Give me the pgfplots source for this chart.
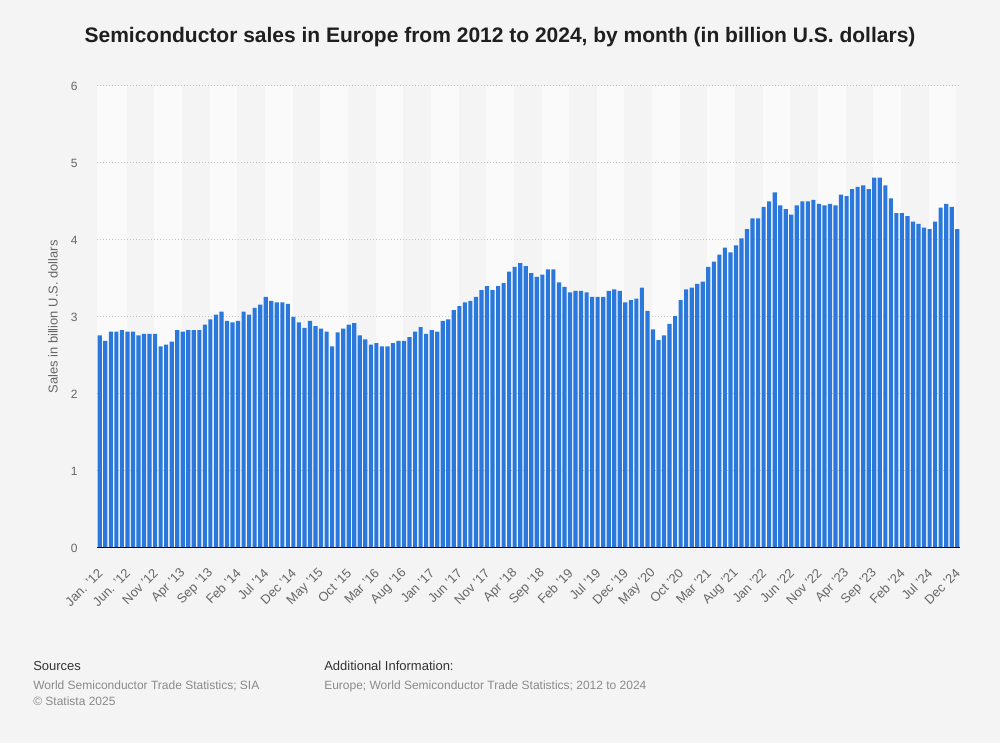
\documentclass[border=0pt]{standalone}
\usepackage{fontspec}
\setmainfont{Liberation Sans}
\usepackage{pgfplots}
\pgfplotsset{compat=1.18}
\usepackage{pgfplotstable}
\definecolor{bg}{HTML}{F4F4F4}
\definecolor{band}{HTML}{FAFAFA}
\definecolor{barblue}{HTML}{2A78DC}
\definecolor{tickgray}{HTML}{666666}
\definecolor{gridgray}{HTML}{C4C4C4}
\definecolor{footgray}{HTML}{8A8A8A}

\pgfplotstableread{
x y
0 2.76
1 2.69
2 2.81
3 2.81
4 2.83
5 2.81
6 2.81
7 2.76
8 2.78
9 2.78
10 2.78
11 2.62
12 2.64
13 2.68
14 2.83
15 2.81
16 2.83
17 2.83
18 2.83
19 2.90
20 2.97
21 3.03
22 3.07
23 2.95
24 2.93
25 2.95
26 3.07
27 3.03
28 3.12
29 3.16
30 3.26
31 3.21
32 3.19
33 3.19
34 3.17
35 3.00
36 2.93
37 2.86
38 2.95
39 2.88
40 2.85
41 2.81
42 2.62
43 2.80
44 2.85
45 2.90
46 2.92
47 2.76
48 2.71
49 2.64
50 2.66
51 2.62
52 2.62
53 2.66
54 2.69
55 2.69
56 2.74
57 2.81
58 2.87
59 2.78
60 2.83
61 2.81
62 2.95
63 2.97
64 3.09
65 3.14
66 3.19
67 3.21
68 3.26
69 3.35
70 3.40
71 3.35
72 3.40
73 3.44
74 3.59
75 3.65
76 3.70
77 3.66
78 3.57
79 3.52
80 3.55
81 3.62
82 3.62
83 3.45
84 3.39
85 3.32
86 3.34
87 3.34
88 3.32
89 3.26
90 3.26
91 3.26
92 3.34
93 3.36
94 3.34
95 3.19
96 3.22
97 3.24
98 3.38
99 3.08
100 2.84
101 2.70
102 2.76
103 2.91
104 3.01
105 3.22
106 3.36
107 3.38
108 3.43
109 3.46
110 3.65
111 3.72
112 3.81
113 3.90
114 3.84
115 3.93
116 4.02
117 4.14
118 4.28
119 4.28
120 4.43
121 4.50
122 4.62
123 4.45
124 4.40
125 4.33
126 4.45
127 4.50
128 4.50
129 4.52
130 4.47
131 4.45
132 4.47
133 4.45
134 4.59
135 4.57
136 4.66
137 4.69
138 4.71
139 4.66
140 4.81
141 4.81
142 4.71
143 4.54
144 4.35
145 4.35
146 4.31
147 4.24
148 4.21
149 4.16
150 4.14
151 4.24
152 4.42
153 4.47
154 4.43
155 4.14
}\salesdata

\begin{document}
\begin{tikzpicture}[x=0.75pt,y=0.75pt]
\fill[bg] (0,0) rectangle (1000,743);
\node[font=\bfseries\fontsize{15.75}{18}\selectfont, text=black!88, anchor=base] at (500,700) {Semiconductor sales in Europe from 2012 to 2024, by month (in billion U.S. dollars)};
\begin{axis}[
  at={(72.75pt,146.25pt)}, anchor=south west,
  scale only axis, width=647.25pt, height=346.5pt,
  xmin=-0.5, xmax=155.5, ymin=0, ymax=6,
  enlargelimits=false,
  axis line style={draw=none},
  tick style={draw=none},
  ybar, bar width=0.75,
  ytick={0,1,2,3,4,5,6},
  xtick={0,5,...,155},
  xticklabels={Jan. '12, Jun. '12, Nov '12, Apr '13, Sep '13, Feb '14, Jul '14, Dec '14, May '15, Oct '15, Mar '16, Aug '16, Jan '17, Jun '17, Nov '17, Apr '18, Sep '18, Feb '19, Jul '19, Dec '19, May '20, Oct '20, Mar '21, Aug '21, Jan '22, Jun '22, Nov '22, Apr '23, Sep '23, Feb '24, Jul '24, Dec '24},
  /pgf/number format/assume math mode=true,
  yticklabel style={font=\fontsize{9}{10}\selectfont, text=tickgray, xshift=-11pt},
  xticklabel style={font=\fontsize{9.7}{11}\selectfont, text=tickgray, inner sep=0pt, xshift=0.5pt, yshift=-13pt, rotate=45, anchor=east},
  ylabel={Sales in billion U.S. dollars},
  ylabel style={font=\fontsize{9.7}{11}\selectfont, text=tickgray, at={(axis description cs:-0.051,0.5)}, anchor=center},
]
\pgfplotsinvokeforeach{0,...,15}{
  \fill[band] (axis cs:{#1*10-0.15},0) rectangle (axis cs:{#1*10+4.85},6);
}
\fill[band] (axis cs:-0.5,0) rectangle (axis cs:4.85,6);
\pgfplotsinvokeforeach{1,...,6}{
  \draw[gridgray, line width=0.75pt, dash pattern=on 0.75pt off 1.5pt] (axis cs:-0.5,#1) -- (axis cs:155.5,#1);
}
\addplot[fill=barblue, draw=none] table[x=x,y=y] {\salesdata};
\draw[black, line width=0.9pt] (axis cs:-0.5,0) -- (axis cs:155.5,0);
\end{axis}
\node[font=\fontsize{9.75}{12}\selectfont, text=black!80, anchor=base west, inner sep=0pt] at (33,72) {Sources};
\node[font=\fontsize{9}{11}\selectfont, text=footgray, anchor=base west, inner sep=0pt] at (33,54) {World Semiconductor Trade Statistics; SIA};
\node[font=\fontsize{9}{11}\selectfont, text=footgray, anchor=base west, inner sep=0pt] at (33,38) {© Statista 2025};
\node[font=\fontsize{9.75}{12}\selectfont, text=black!80, anchor=base west, inner sep=0pt] at (324,72) {Additional Information:};
\node[font=\fontsize{9}{11}\selectfont, text=footgray, anchor=base west, inner sep=0pt] at (324,54) {Europe; World Semiconductor Trade Statistics; 2012 to 2024};
\end{tikzpicture}
\end{document}
